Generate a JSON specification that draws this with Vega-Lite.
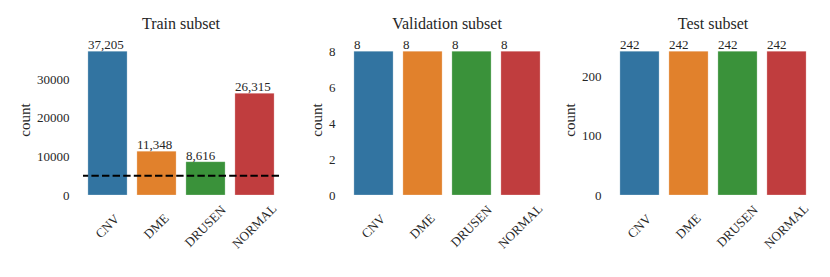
{
  "$schema": "https://vega.github.io/schema/vega-lite/v6.json",
  "padding": {"left": 17, "top": 16, "right": 5, "bottom": 5},
  "background": "white",
  "config": {
    "font": "Liberation Serif",
    "view": {"stroke": null},
    "axis": {"labelFont": "Liberation Serif", "titleFont": "Liberation Serif", "labelColor": "#262626", "titleColor": "#262626", "domain": false, "ticks": false, "tickSize": 0, "grid": false, "titleFontWeight": "normal", "labelOverlap": false, "labelLimit": 300},
    "axisX": {"title": null, "labelAngle": -45, "labelAlign": "center", "labelBaseline": "middle", "labelFontSize": 13, "labelPadding": 31},
    "axisY": {"labelFontSize": 13, "labelPadding": 14, "titleFontSize": 15, "titlePadding": 4},
    "title": {"font": "Liberation Serif", "fontSize": 16, "fontWeight": "normal", "color": "#262626"}
  },
  "datasets": {
    "counts": [
      {"subset": "Train", "label": "CNV", "count": 37205},
      {"subset": "Train", "label": "DME", "count": 11348},
      {"subset": "Train", "label": "DRUSEN", "count": 8616},
      {"subset": "Train", "label": "NORMAL", "count": 26315},
      {"subset": "Validation", "label": "CNV", "count": 8},
      {"subset": "Validation", "label": "DME", "count": 8},
      {"subset": "Validation", "label": "DRUSEN", "count": 8},
      {"subset": "Validation", "label": "NORMAL", "count": 8},
      {"subset": "Test", "label": "CNV", "count": 242},
      {"subset": "Test", "label": "DME", "count": 242},
      {"subset": "Test", "label": "DRUSEN", "count": 242},
      {"subset": "Test", "label": "NORMAL", "count": 242}
    ],
    "threshold": [{"value": 5000}]
  },
  "spacing": 70,
  "bounds": "flush",
  "hconcat": [
    {
      "width": 196, "height": 151,
      "title": {"text": "Train subset", "frame": "group", "baseline": "alphabetic", "offset": -6},
      "layer": [
        {
          "data": {"name": "counts"},
          "transform": [{"filter": "datum.subset === 'Train'"}],
          "mark": {"type": "bar", "stroke": "white", "strokeOpacity": 0.25, "strokeWidth": 1},
          "encoding": {
            "x": {"field": "label", "type": "nominal", "sort": null, "scale": {"paddingInner": 0.2, "paddingOuter": 0.1}},
            "y": {"field": "count", "type": "quantitative", "scale": {"domain": [0, 39065], "nice": false},
              "axis": {"title": "count", "values": [0, 10000, 20000, 30000], "format": "d"}},
            "color": {"field": "label", "type": "nominal", "sort": null, "legend": null,
              "scale": {"domain": ["CNV", "DME", "DRUSEN", "NORMAL"], "range": ["#3274a1", "#e1812c", "#3a923a", "#c03d3e"]}}
          }
        },
        {
          "data": {"name": "counts"},
          "transform": [{"filter": "datum.subset === 'Train'"}],
          "mark": {"type": "text", "align": "left", "baseline": "alphabetic", "dy": -2, "fontSize": 13, "color": "#262626"},
          "encoding": {
            "x": {"field": "label", "type": "nominal", "sort": null, "bandPosition": 0},
            "y": {"field": "count", "type": "quantitative", "axis": {"title": "count", "values": [0, 10000, 20000, 30000], "format": "d"}},
            "text": {"field": "count", "type": "quantitative", "format": ","}
          }
        },
        {
          "data": {"name": "threshold"},
          "mark": {"type": "rule", "color": "black", "strokeWidth": 2, "strokeDash": [7.4, 3.2]},
          "encoding": {"y": {"field": "value", "type": "quantitative", "axis": {"title": "count", "values": [0, 10000, 20000, 30000], "format": "d"}}}
        }
      ]
    },
    {
      "width": 196, "height": 151,
      "title": {"text": "Validation subset", "frame": "group", "baseline": "alphabetic", "offset": -6},
      "layer": [
        {
          "data": {"name": "counts"},
          "transform": [{"filter": "datum.subset === 'Validation'"}],
          "mark": {"type": "bar", "stroke": "white", "strokeOpacity": 0.25, "strokeWidth": 1},
          "encoding": {
            "x": {"field": "label", "type": "nominal", "sort": null, "scale": {"paddingInner": 0.2, "paddingOuter": 0.1}},
            "y": {"field": "count", "type": "quantitative", "scale": {"domain": [0, 8.4], "nice": false},
              "axis": {"title": "count", "values": [0, 2, 4, 6, 8], "format": "d"}},
            "color": {"field": "label", "type": "nominal", "sort": null, "legend": null,
              "scale": {"domain": ["CNV", "DME", "DRUSEN", "NORMAL"], "range": ["#3274a1", "#e1812c", "#3a923a", "#c03d3e"]}}
          }
        },
        {
          "data": {"name": "counts"},
          "transform": [{"filter": "datum.subset === 'Validation'"}],
          "mark": {"type": "text", "align": "left", "baseline": "alphabetic", "dy": -2, "fontSize": 13, "color": "#262626"},
          "encoding": {
            "x": {"field": "label", "type": "nominal", "sort": null, "bandPosition": 0},
            "y": {"field": "count", "type": "quantitative", "axis": {"title": "count", "values": [0, 2, 4, 6, 8], "format": "d"}},
            "text": {"field": "count", "type": "quantitative", "format": ","}
          }
        }
      ]
    },
    {
      "width": 196, "height": 151,
      "title": {"text": "Test subset", "frame": "group", "baseline": "alphabetic", "offset": -6},
      "layer": [
        {
          "data": {"name": "counts"},
          "transform": [{"filter": "datum.subset === 'Test'"}],
          "mark": {"type": "bar", "stroke": "white", "strokeOpacity": 0.25, "strokeWidth": 1},
          "encoding": {
            "x": {"field": "label", "type": "nominal", "sort": null, "scale": {"paddingInner": 0.2, "paddingOuter": 0.1}},
            "y": {"field": "count", "type": "quantitative", "scale": {"domain": [0, 254.1], "nice": false},
              "axis": {"title": "count", "values": [0, 100, 200], "format": "d"}},
            "color": {"field": "label", "type": "nominal", "sort": null, "legend": null,
              "scale": {"domain": ["CNV", "DME", "DRUSEN", "NORMAL"], "range": ["#3274a1", "#e1812c", "#3a923a", "#c03d3e"]}}
          }
        },
        {
          "data": {"name": "counts"},
          "transform": [{"filter": "datum.subset === 'Test'"}],
          "mark": {"type": "text", "align": "left", "baseline": "alphabetic", "dy": -2, "fontSize": 13, "color": "#262626"},
          "encoding": {
            "x": {"field": "label", "type": "nominal", "sort": null, "bandPosition": 0},
            "y": {"field": "count", "type": "quantitative", "axis": {"title": "count", "values": [0, 100, 200], "format": "d"}},
            "text": {"field": "count", "type": "quantitative", "format": ","}
          }
        }
      ]
    }
  ],
  "resolve": {"scale": {"y": "independent", "x": "independent", "color": "shared"}}
}
